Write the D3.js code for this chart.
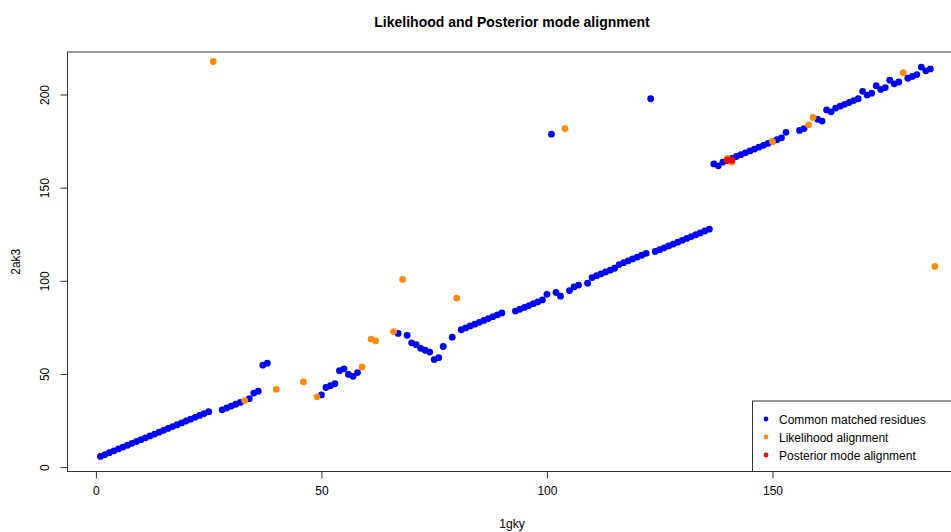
<!DOCTYPE html>
<html>
<head>
<meta charset="utf-8">
<script src="https://cdn.jsdelivr.net/npm/d3@7"></script>
<style>
  html, body { margin: 0; padding: 0; background: #fff; }
  svg { display: block; font-family: "Liberation Sans", Arial, Helvetica, sans-serif; }
</style>
</head>
<body>
<svg id="chart" width="951" height="532"></svg>
<script>
// ---- data ----
const blueX = [
  1,2,3,4,5,6,7,8,9,10,11,12,13,14,15,16,17,18,19,20,21,22,23,24,25,
  28,29,30,31,32,34,35,36,37,38,
  50,51,52,53,54,55,56,57,58,
  67,69,70,71,72,73,74,75,76,77,79,
  81,82,83,84,85,86,87,88,89,90,
  93,94,95,96,97,98,99,
  100,101,102,103,105,106,107,109,
  110,111,112,113,114,115,116,117,118,119,120,121,122,123,
  124,125,126,127,128,129,130,131,132,133,134,135,136,
  137,138,139,140,141,142,143,144,145,146,147,148,149,150,151,152,153,
  156,157,160,161,162,163,164,165,166,167,168,169,
  170,171,172,173,174,175,176,177,178,180,181,182,183,184,185
];
const blueY = [
  6,7,8,9,10,11,12,13,14,15,16,17,18,19,20,21,22,23,24,25,26,27,28,29,30,
  31,32,33,34,35,37,40,41,55,56,
  39,43,44,45,52,53,50,49,51,
  72,71,67,66,64,63,62,58,59,65,70,
  74,75,76,77,78,79,80,81,82,83,
  84,85,86,87,88,89,90,
  93,179,94,92,95,97,98,99,
  102,103,104,105,106,107,109,110,111,112,113,114,115,198,
  116,117,118,119,120,121,122,123,124,125,126,127,128,
  163,162,164,165,166,167,168,169,170,171,172,173,174,175,176,177,180,
  181,182,187,186,192,191,193,194,195,196,197,198,
  202,200,201,205,203,204,208,206,207,209,210,211,215,213,214
];
const orangeX = [26,33,40,46,49,59,61,62,66,68,80,104,140,141,150,158,159,179,186];
const orangeY = [218,36,42,46,38,54,69,68,73,101,91,182,166,164,175,184,188,212,108];
const redX = [140,141];
const redY = [165,165];

const xTicks = [0,50,100,150];
const yTicks = [0,50,100,150,200];
const legendLabels = ["Common matched residues","Likelihood alignment","Posterior mode alignment"];
const legendColors = ["#0000ff","#ff8c00","#ff0000"];

// ---- drawing ----
const svg = d3.select("#chart");
const L = 67.5, R = 956.5, T = 52, B = 471.5;

const x = d3.scaleLinear().domain([-6.3, 190.8]).range([L, R]);
const y = d3.scaleLinear().domain([-2.1, 223.1]).range([B, T]);

const zip = (xs, ys) => xs.map((v, i) => ({x: v, y: ys[i]}));

// axes
const xAxis = d3.axisBottom(x).tickValues(xTicks).tickSize(7).tickPadding(8).tickFormat(d3.format("d"));
const gx = svg.append("g").attr("transform", `translate(0,${B})`).call(xAxis);
gx.select(".domain").attr("d", `M${x(xTicks[0])},0H${x(xTicks[xTicks.length-1])}`);
gx.selectAll("text").attr("font-size", 12).attr("fill", "#000")
  .attr("font-family", "Liberation Sans, Arial, sans-serif");
gx.selectAll("line, path").attr("stroke", "#333");

const yAxis = d3.axisLeft(y).tickValues(yTicks).tickSize(7).tickFormat(d3.format("d"));
const gy = svg.append("g").attr("transform", `translate(${L},0)`).call(yAxis);
gy.select(".domain").attr("d", `M0,${y(yTicks[0])}V${y(yTicks[yTicks.length-1])}`);
gy.selectAll("line, path").attr("stroke", "#333");
gy.selectAll("text")
  .attr("font-size", 12).attr("fill", "#000")
  .attr("font-family", "Liberation Sans, Arial, sans-serif")
  .attr("text-anchor", "middle")
  .attr("dy", null)
  .attr("x", null)
  .attr("transform", d => `translate(-19,${y(d)}) rotate(-90)`)
  .attr("y", 0)
  .attr("dominant-baseline", "auto");
gy.selectAll(".tick").attr("transform", null);
gy.selectAll(".tick line").attr("transform", d => `translate(0,${y(d)})`);

// frame
svg.append("rect").attr("x", L).attr("y", T).attr("width", R - L).attr("height", B - T)
  .attr("fill", "none").attr("stroke", "#333").attr("stroke-width", 1);

// points
const pts = svg.append("g");
pts.selectAll("circle.blue").data(zip(blueX, blueY)).join("circle")
  .attr("class", "blue").attr("cx", d => x(d.x)).attr("cy", d => y(d.y))
  .attr("r", 3.4).attr("fill", legendColors[0]);
pts.selectAll("circle.orange").data(zip(orangeX, orangeY)).join("circle")
  .attr("class", "orange").attr("cx", d => x(d.x)).attr("cy", d => y(d.y))
  .attr("r", 3.4).attr("fill", legendColors[1]);
pts.selectAll("circle.red").data(zip(redX, redY)).join("circle")
  .attr("class", "red").attr("cx", d => x(d.x)).attr("cy", d => y(d.y))
  .attr("r", 3.4).attr("fill", legendColors[2]);

// legend
const lg = svg.append("g");
lg.append("rect").attr("x", 752.5).attr("y", 401).attr("width", R - 752.5).attr("height", B - 401)
  .attr("fill", "#fff").attr("stroke", "#333").attr("stroke-width", 1);
legendLabels.forEach((lab, i) => {
  const cy = 419 + i * 18;
  lg.append("circle").attr("cx", 766).attr("cy", cy).attr("r", 2.4).attr("fill", legendColors[i]);
  lg.append("text").attr("x", 779).attr("y", cy + 4.5).attr("font-size", 12).attr("fill", "#000").text(lab);
});

// titles
svg.append("text").attr("x", (L + R) / 2).attr("y", 27).attr("text-anchor", "middle")
  .attr("font-size", 14).attr("font-weight", "bold").attr("fill", "#000")
  .text("Likelihood and Posterior mode alignment");
svg.append("text").attr("x", (L + R) / 2).attr("y", 528).attr("text-anchor", "middle")
  .attr("font-size", 12).attr("fill", "#000").text("1gky");
svg.append("text").attr("transform", `translate(20,${(T + B) / 2}) rotate(-90)`)
  .attr("text-anchor", "middle").attr("font-size", 12).attr("fill", "#000").text("2ak3");
</script>
</body>
</html>
